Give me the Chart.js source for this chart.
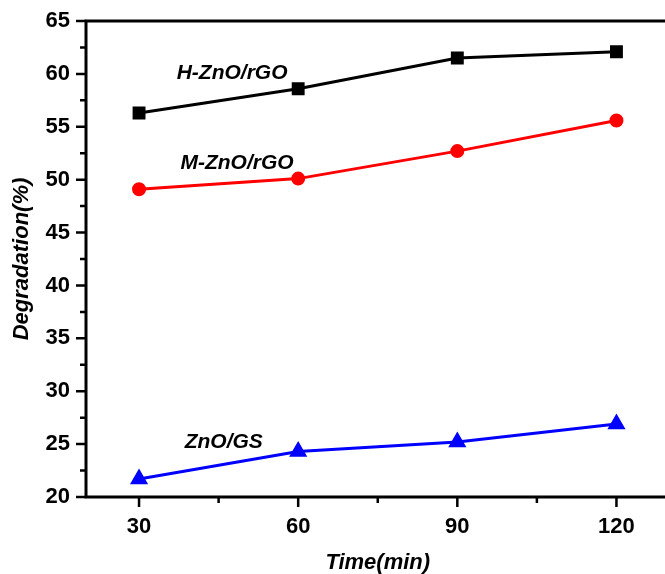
<!DOCTYPE html>
<html>
<head>
<meta charset="utf-8">
<script src="https://cdn.jsdelivr.net/npm/chart.js@4/dist/chart.umd.min.js"></script>
<style>
  html, body { margin: 0; padding: 0; background: #fff; overflow: hidden; }
  #wrap { width: 680px; height: 574px; }
</style>
</head>
<body>
<div id="wrap"><canvas id="c" width="680" height="574"></canvas></div>
<script>
// ---- data ----
const times = [30, 60, 90, 120];
const xTickLabels = ['30', '60', '90', '120'];
const hZnO = [56.3, 58.6, 61.5, 62.1];
const mZnO = [49.1, 50.1, 52.7, 55.6];
const znoGS = [21.7, 24.3, 25.2, 26.9];
const seriesNames = ['H-ZnO/rGO', 'M-ZnO/rGO', 'ZnO/GS'];
const seriesColors = ['#000000', '#ff0000', '#0000ff'];
const yTitle = 'Degradation(%)';
const xTitle = 'Time(min)';

const FONT = "'Liberation Sans', Arial, sans-serif";

function pts(vals) { return times.map((t, i) => ({ x: t, y: vals[i] })); }

// label anchors in data coordinates (left edge, vertical middle)
const labelAnchors = [
  { x: 37.1, y: 60.1 },
  { x: 37.8, y: 51.6 },
  { x: 38.6, y: 25.2 }
];

const axesPlugin = {
  id: 'axesPlugin',
  afterDraw(chart) {
    const ctx = chart.ctx;
    const xs = chart.scales.x, ys = chart.scales.y;
    const a = chart.chartArea;
    ctx.save();
    ctx.strokeStyle = '#000';
    ctx.lineCap = 'butt';
    // axis lines
    ctx.lineWidth = 3;
    ctx.beginPath();
    ctx.moveTo(a.left, a.top);
    ctx.lineTo(a.left, a.bottom);
    ctx.moveTo(a.left - 1.5, a.bottom);
    ctx.lineTo(a.right, a.bottom);
    ctx.moveTo(a.left - 1.5, a.top);
    ctx.lineTo(a.right, a.top);
    ctx.stroke();
    // ticks
    ctx.lineWidth = 2.5;
    ctx.beginPath();
    for (let v = 20; v <= 65.01; v += 2.5) {
      const y = ys.getPixelForValue(v);
      const major = Math.abs(v / 5 - Math.round(v / 5)) < 1e-6;
      ctx.moveTo(a.left, y);
      ctx.lineTo(a.left - (major ? 10 : 6), y);
    }
    for (let v = 30; v <= 130; v += 15) {
      const x = xs.getPixelForValue(v);
      const major = v % 30 === 0;
      ctx.moveTo(x, a.bottom);
      ctx.lineTo(x, a.bottom + (major ? 10 : 6));
    }
    ctx.stroke();
    // series labels
    ctx.fillStyle = '#000';
    ctx.font = "italic bold 21px " + FONT;
    ctx.textBaseline = 'middle';
    ctx.textAlign = 'left';
    seriesNames.forEach((n, i) => {
      ctx.fillText(n, xs.getPixelForValue(labelAnchors[i].x), ys.getPixelForValue(labelAnchors[i].y));
    });
    ctx.restore();
  }
};

new Chart(document.getElementById('c'), {
  type: 'line',
  data: {
    datasets: [
      { label: seriesNames[0], data: pts(hZnO), borderColor: seriesColors[0], backgroundColor: seriesColors[0],
        pointStyle: 'rect', pointRadius: 7, borderWidth: 3 },
      { label: seriesNames[1], data: pts(mZnO), borderColor: seriesColors[1], backgroundColor: seriesColors[1],
        pointStyle: 'circle', pointRadius: 5.5, borderWidth: 3 },
      { label: seriesNames[2], data: pts(znoGS), borderColor: seriesColors[2], backgroundColor: seriesColors[2],
        pointStyle: 'triangle', pointRadius: 7.5, borderWidth: 3 }
    ]
  },
  options: {
    responsive: false,
    animation: false,
    layout: { padding: { top: 21, right: 9, left: 0, bottom: 0 } },
    plugins: { legend: { display: false }, tooltip: { enabled: false } },
    elements: { line: { tension: 0 }, point: { borderWidth: 0, hoverRadius: 0 } },
    scales: {
      x: {
        type: 'linear', min: 20, max: 130,
        afterFit(s) { s.height = 77; s.paddingLeft = 0; s.paddingRight = 0; },
        afterBuildTicks(s) { s.ticks = times.map(v => ({ value: v })); },
        grid: { display: false, drawTicks: false },
        border: { display: false },
        ticks: {
          padding: 17, color: '#000',
          font: { family: FONT, size: 22, weight: 'bold' },
          maxRotation: 0, autoSkip: false,
          callback: (v) => { const i = times.indexOf(v); return i >= 0 ? xTickLabels[i] : ''; }
        },
        title: { display: true, text: xTitle, color: '#000',
          font: { family: FONT, size: 22, weight: 'bold', style: 'italic', lineHeight: 1 },
          padding: { top: 0, bottom: 0 } }
      },
      y: {
        min: 20, max: 65,
        afterFit(s) { s.width = 86; s.paddingTop = 0; s.paddingBottom = 0; },
        grid: { display: false, drawTicks: false },
        border: { display: false },
        ticks: {
          stepSize: 5, padding: 16, color: '#000',
          font: { family: FONT, size: 22, weight: 'bold' }
        },
        title: { display: true, text: yTitle, color: '#000',
          font: { family: FONT, size: 22, weight: 'bold', style: 'italic', lineHeight: 1 },
          padding: { top: 11, bottom: 0 } }
      }
    }
  },
  plugins: [axesPlugin]
});
</script>
</body>
</html>
